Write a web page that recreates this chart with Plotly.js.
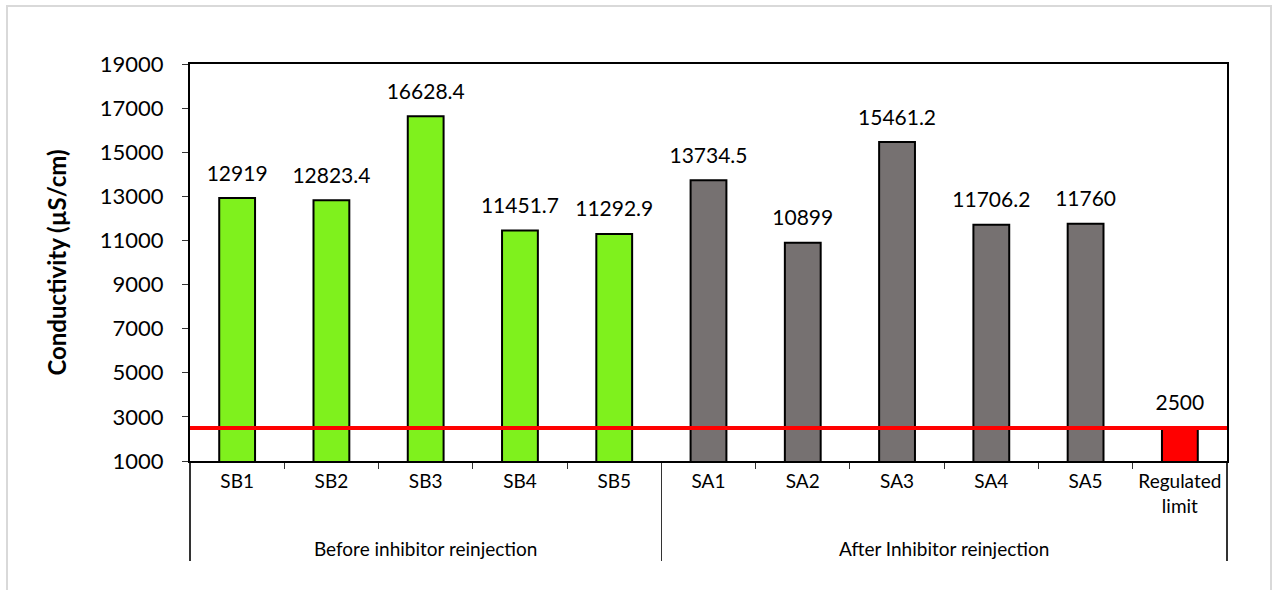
<!DOCTYPE html>
<html>
<head>
<meta charset="utf-8">
<script src="https://cdn.plot.ly/plotly-3.0.1.min.js"></script>
<style>
  html, body { margin:0; padding:0; background:#fff; }
  #chart { position:absolute; left:0; top:0; width:1273px; height:590px; }
  #frame { position:absolute; left:6px; top:5px; width:1262px; height:600px; border:2px solid #d9d9d9; pointer-events:none; }
</style>
</head>
<body>
<div id="chart"></div>
<div id="frame"></div>
<script>
const groups = ["Before inhibitor reinjection","Before inhibitor reinjection","Before inhibitor reinjection","Before inhibitor reinjection","Before inhibitor reinjection",
                "After Inhibitor reinjection","After Inhibitor reinjection","After Inhibitor reinjection","After Inhibitor reinjection","After Inhibitor reinjection","After Inhibitor reinjection"];
const samples = ["SB1","SB2","SB3","SB4","SB5","SA1","SA2","SA3","SA4","SA5","Regulated<br>limit<br><span style='font-size:1px'>&nbsp;</span>"];
const conductivity = [12919, 12823.4, 16628.4, 11451.7, 11292.9, 13734.5, 10899, 15461.2, 11706.2, 11760, 2500];
const barColors = ["#7ff11d","#7ff11d","#7ff11d","#7ff11d","#7ff11d","#767171","#767171","#767171","#767171","#767171","#ff0000"];
const limitValue = 2500;

const FONT = "Lato, 'Open Sans', sans-serif";

const bars = {
  type: "bar",
  x: [groups, samples],
  y: conductivity,
  marker: { color: barColors, line: { color: "#000", width: 2 } },
  hoverinfo: "x+y",
  showlegend: false
};

const labels = {
  type: "scatter",
  mode: "markers+text",
  x: [groups, samples],
  y: conductivity,
  text: conductivity.map(v => String(v)),
  textposition: "top center",
  textfont: { family: FONT, size: 21, color: "#000" },
  marker: { size: 18, color: "rgba(0,0,0,0)" },
  hoverinfo: "skip",
  showlegend: false,
  cliponaxis: false
};

const layout = {
  width: 1273, height: 590,
  paper_bgcolor: "#fff", plot_bgcolor: "#fff",
  margin: { l: 190, r: 46, t: 64, b: 129 },
  bargap: 0.62,
  font: { family: FONT, color: "#000" },
  xaxis: {
    type: "multicategory",
    range: [-0.5, 10.5],
    tickangle: 0,
    showline: true, linecolor: "#000", linewidth: 2, mirror: true,
    ticks: "outside", ticklen: 6, tickcolor: "#333", tickwidth: 1,
    tickson: "boundaries",
    ticklabelstandoff: 2,
    tickfont: { family: FONT, size: 19, color: "#000" },
    showdividers: true, dividercolor: "#333", dividerwidth: 1.5,
    showgrid: false, zeroline: false
  },
  yaxis: {
    range: [1000, 19000], dtick: 2000, tick0: 1000,
    tickformat: "d",
    showline: true, linecolor: "#000", linewidth: 2, mirror: true,
    ticks: "outside", ticklen: 6, tickcolor: "#333", tickwidth: 1,
    tickfont: { family: FONT, size: 22, color: "#000" },
    ticklabelstandoff: 14,
    showgrid: false, zeroline: false,
    title: { text: "<b>Conductivity (µS/cm)</b>", font: { family: FONT, size: 24, color: "#000" }, standoff: 26 }
  },
  shapes: [{
    type: "line", xref: "paper", x0: 0, x1: 1, yref: "y", y0: limitValue, y1: limitValue,
    line: { color: "#ff0000", width: 4 }, layer: "above"
  }]
};

Plotly.newPlot("chart", [bars, labels], layout, { displayModeBar: false, staticPlot: true });
</script>
</body>
</html>
